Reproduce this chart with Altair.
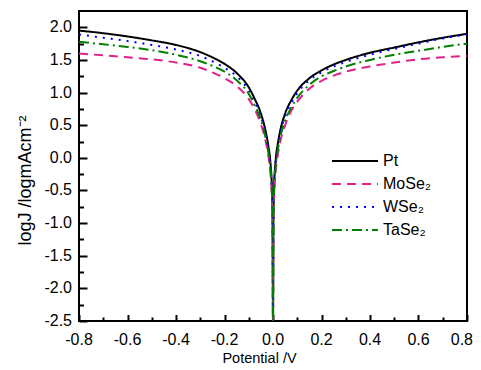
import altair as alt
import pandas as pd

series = ["Pt", "MoSe₂", "WSe₂", "TaSe₂"]
colors = ["#000000", "#E0218A", "#0000FF", "#008000"]
dashes = [[1, 0], [9, 6], [2, 6], [10, 4, 2, 4]]

potential = [-0.8, -0.7, -0.6, -0.5, -0.4, -0.3, -0.25, -0.2, -0.15, -0.1, -0.075, -0.05,
             -0.03, -0.02, -0.01, -0.005, -0.002, 0.0, 0.002, 0.005, 0.01, 0.02, 0.03, 0.05,
             0.075, 0.1, 0.15, 0.2, 0.25, 0.3, 0.4, 0.5, 0.6, 0.7, 0.8]

pt = [1.95, 1.91, 1.86, 1.80, 1.73, 1.62, 1.54, 1.44, 1.30, 1.08, 0.90, 0.68,
      0.40, 0.20, -0.10, -0.40, -0.80, -2.5, -0.80, -0.38, -0.08, 0.22, 0.42, 0.68,
      0.88, 1.03, 1.22, 1.34, 1.43, 1.50, 1.61, 1.69, 1.77, 1.84, 1.90]
mose2 = [1.60, 1.57, 1.54, 1.51, 1.46, 1.38, 1.31, 1.22, 1.10, 0.90, 0.74, 0.52,
         0.25, 0.05, -0.25, -0.55, -0.95, -2.5, -0.95, -0.55, -0.25, 0.05, 0.25, 0.50,
         0.72, 0.86, 1.06, 1.18, 1.26, 1.32, 1.40, 1.46, 1.51, 1.54, 1.56]
wse2 = [1.89, 1.84, 1.79, 1.73, 1.66, 1.56, 1.48, 1.38, 1.25, 1.03, 0.85, 0.63,
        0.35, 0.15, -0.15, -0.45, -0.85, -2.5, -0.85, -0.42, -0.12, 0.18, 0.38, 0.64,
        0.84, 0.99, 1.19, 1.31, 1.40, 1.47, 1.58, 1.67, 1.75, 1.83, 1.89]
tase2 = [1.78, 1.74, 1.70, 1.65, 1.58, 1.48, 1.41, 1.32, 1.19, 0.98, 0.80, 0.58,
         0.30, 0.10, -0.20, -0.50, -0.90, -2.5, -0.90, -0.48, -0.18, 0.12, 0.32, 0.57,
         0.77, 0.92, 1.12, 1.25, 1.33, 1.40, 1.50, 1.58, 1.64, 1.70, 1.75]

x_major = [-0.8, -0.6, -0.4, -0.2, 0.0, 0.2, 0.4, 0.6, 0.8]
x_minor = [-0.7, -0.5, -0.3, -0.1, 0.1, 0.3, 0.5, 0.7]
y_major = [-2.5, -2.0, -1.5, -1.0, -0.5, 0.0, 0.5, 1.0, 1.5, 2.0]
y_minor = [-2.25, -1.75, -1.25, -0.75, -0.25, 0.25, 0.75, 1.25, 1.75]
x_labels = ["-0.8", "-0.6", "-0.4", "-0.2", "0.0", "0.2", "0.4", "0.6", "0.8"]
y_labels = ["-2.5", "-2.0", "-1.5", "-1.0", "-0.5", "0.0", "0.5", "1.0", "1.5", "2.0"]

rows = []
for name, vals in zip(series, [pt, mose2, wse2, tase2]):
    for xv, yv in zip(potential, vals):
        rows.append({"series": name, "potential": xv, "logJ": yv})
df = pd.DataFrame(rows)

W, H = 388, 310
FONT = "Liberation Sans"
X0, X1 = -0.8, 0.8
Y0, Y1 = -2.5, 2.25

XMAJ, XMIN, YMAJ, YMIN = 6.5, 4, 8, 4.5   # inward tick lengths (px)

xlab_df = pd.DataFrame({"potential": x_major, "label": x_labels})
ylab_df = pd.DataFrame({"logJ": y_major, "label": y_labels})

xscale = alt.Scale(domain=[X0, X1], nice=False, zero=False)
yscale = alt.Scale(domain=[Y0, Y1], nice=False, zero=False)

legend = alt.Legend(
    title=None, orient="none", legendX=268, legendY=142,
    symbolType="M-4.6,0L4.6,0", symbolSize=100, symbolStrokeWidth=2,
    labelFont=FONT, labelFontSize=16, labelColor="black", labelOffset=20,
    rowPadding=7, padding=0,
)

# major axes pulled into the plot so their ticks point inward
lines = alt.Chart(df).mark_line(strokeWidth=2, clip=True, interpolate="monotone").encode(
    x=alt.X("potential:Q", scale=xscale,
            axis=alt.Axis(orient="bottom", values=x_major, labels=False, offset=-XMAJ, tickSize=XMAJ,
                          title="Potential /V", titleX=180, titleY=47.5 - XMAJ + 6.5,
                          titleBaseline="alphabetic", titleAlign="center", titleFontSize=14.5)),
    y=alt.Y("logJ:Q", scale=yscale,
            axis=alt.Axis(orient="left", values=y_major, labels=False, offset=-YMAJ, tickSize=YMAJ,
                          title="logJ /logmAcm\u207b\u00b2", titleX=-49 - YMAJ, titleY=169,
                          titleBaseline="alphabetic", titleAlign="center", titleAngle=270,
                          titleFontSize=18)),
    color=alt.Color("series:N", scale=alt.Scale(domain=series, range=colors), legend=legend),
    strokeDash=alt.StrokeDash("series:N", scale=alt.Scale(domain=series, range=dashes), legend=legend),
)

# minor ticks through a second pair of axes
minor = alt.Chart(df).mark_line(opacity=0).encode(
    x=alt.X("potential:Q", scale=xscale,
            axis=alt.Axis(orient="bottom", values=x_minor, labels=False, offset=-XMIN,
                          tickSize=XMIN, title=None)),
    y=alt.Y("logJ:Q", scale=yscale,
            axis=alt.Axis(orient="left", values=y_minor, labels=False, offset=-YMIN,
                          tickSize=YMIN, title=None)),
    detail="series:N",
)

xlabels = alt.Chart(xlab_df.iloc[:-1]).mark_text(
    font=FONT, fontSize=16, color="black", baseline="top", align="center", dy=11
).encode(x=alt.X("potential:Q", axis=None), y=alt.datum(Y0, axis=None), text="label:N")

xlabel_last = alt.Chart(xlab_df.iloc[-1:]).mark_text(
    font=FONT, fontSize=16, color="black", baseline="top", align="right", dx=6, dy=11
).encode(x=alt.X("potential:Q", axis=None), y=alt.datum(Y0, axis=None), text="label:N")

ylabels = alt.Chart(ylab_df).mark_text(
    font=FONT, fontSize=16, color="black", baseline="middle", align="right", dx=-7
).encode(y=alt.Y("logJ:Q", axis=None), x=alt.datum(X0, axis=None), text="label:N")

chart = alt.layer(lines, minor, xlabels, xlabel_last, ylabels).resolve_axis(
    x="independent", y="independent"
).properties(
    width=W, height=H,
    autosize=alt.AutoSizeParams(type="none"),
    padding={"left": 71, "top": 3, "right": 6, "bottom": 45},
    background="white",
).configure_view(
    stroke="black", strokeWidth=2,
).configure_axis(
    domain=False, ticks=True, grid=False, labels=False,
    tickColor="black", tickWidth=2, tickCap="butt",
    titleFont=FONT, titleFontSize=15, titleFontWeight="normal", titleColor="black",
)

chart.save("out.html", embed_options={"renderer": "svg", "actions": False})
